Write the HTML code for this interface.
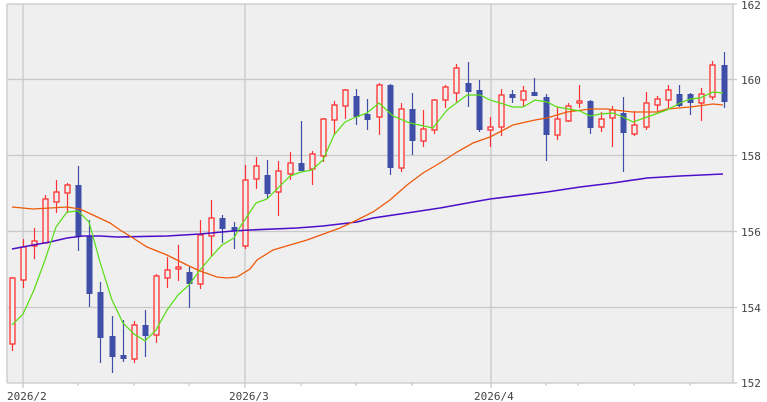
<!DOCTYPE html>
<html><head><meta charset="utf-8"><style>
html,body{margin:0;padding:0;background:#fff;}
svg{display:block;}
text{font-family:"DejaVu Sans Mono","Liberation Mono",monospace;font-size:11px;fill:#444;}
</style></head><body>
<svg id="s" width="767" height="402" xmlns="http://www.w3.org/2000/svg">
<rect x="7" y="4" width="726" height="379" fill="#efefef"/>
<g stroke="#c8c8c8" stroke-width="1.3" fill="none">
<line x1="7" y1="79.5" x2="737" y2="79.5"/>
<line x1="7" y1="155.5" x2="737" y2="155.5"/>
<line x1="7" y1="231.5" x2="737" y2="231.5"/>
<line x1="7" y1="307.5" x2="737" y2="307.5"/>
<line x1="7" y1="4" x2="737" y2="4"/>
<line x1="7" y1="383" x2="737" y2="383"/>
<line x1="7" y1="4" x2="7" y2="383"/>
<line x1="733" y1="4" x2="733" y2="383"/>
<line x1="23" y1="4" x2="23" y2="388"/>
<line x1="245" y1="4" x2="245" y2="388"/>
<line x1="491" y1="4" x2="491" y2="388"/>
<line x1="78" y1="383" x2="78" y2="386"/>
<line x1="134" y1="383" x2="134" y2="386"/>
<line x1="189" y1="383" x2="189" y2="386"/>
<line x1="301" y1="383" x2="301" y2="386"/>
<line x1="356" y1="383" x2="356" y2="386"/>
<line x1="412" y1="383" x2="412" y2="386"/>
<line x1="546" y1="383" x2="546" y2="386"/>
<line x1="578" y1="383" x2="578" y2="386"/>
<line x1="634" y1="383" x2="634" y2="386"/>
<line x1="690" y1="383" x2="690" y2="386"/>
</g>
<text x="741" y="9">162</text>
<text x="741" y="84">160</text>
<text x="741" y="160">158</text>
<text x="741" y="236">156</text>
<text x="741" y="312">154</text>
<text x="741" y="387">152</text>
<text x="7" y="400">2026/2</text>
<text x="229" y="400">2026/3</text>
<text x="474" y="400">2026/4</text>
<g id="c"></g>
<polyline fill="none" stroke="#4b0fc8" stroke-width="1.6" points="12,249 33,245 50,242 67,238 83,236 100,236 117,237 167,236 200,234 233,231 250,230 297,228 323,226 357,222 373,218 407,213 440,208 473,202 490,199 547,192 580,187 613,183 647,178 680,176 723,174"/>
<polyline fill="none" stroke="#ee5a0a" stroke-width="1.3" points="12,207 33,209 67,207 80,209 93,215 110,223 120,230 133,238 147,247 167,255 187,265 200,271 217,277 227,278 237,277 250,269 257,260 273,250 307,240 340,228 357,220 373,212 390,200 407,185 423,173 440,163 457,152 473,143 490,137 513,125 535,120 547,118 567,112 590,109 607,109 623,111 633,112 657,112 667,109 690,107 713,104 723,105"/>
<polyline fill="none" stroke="#55dd11" stroke-width="1.2" points="12,325 23,314 34,290 45,260 56,227 67,212 78,211 89,222 100,262 112,300 123,323 134,334 145,341 156,330 167,310 178,295 189,285 200,270 211,257 222,245 234,238 240,227 256,203 267,199 278,188 290,176 301,172 312,170 323,160 334,135 345,122 356,117 367,113 379,103 393,116 410,123 433,128 447,110 467,95 480,95 490,100 513,107 523,107 535,100 547,102 557,107 580,111 590,116 600,114 613,113 623,117 633,122 647,117 667,110 680,103 690,99 700,98 713,92 723,93"/>
</svg>
<script>
var d=[[12,344,278,277,351],[23,280,247,239,288],[34,246,241,228,259],[45,243,199,195,243],[56,202,192,180,213],[67,193,185,183,213],[78,185,237,166,251],[89,236,294,220,307],[100,292,338,282,363],[112,336,357,316,373],[123,355,359,320,362],[134,359,325,321,363],[145,325,336,310,357],[156,335,276,274,343],[167,278,270,257,288],[178,269,267,245,281],[189,272,284,267,308],[200,284,235,220,289],[211,236,218,200,256],[222,218,229,215,243],[234,227,231,222,249],[245,246,180,165,249],[256,179,166,157,189],[267,175,194,160,199],[278,192,171,161,216],[290,174,163,152,180],[301,163,171,121,171],[312,169,154,151,185],[323,156,119,118,162],[334,120,105,101,135],[345,106,90,89,119],[356,96,117,89,125],[367,114,120,99,130],[379,117,85,83,135],[390,85,168,84,175],[401,168,109,103,172],[412,109,141,93,155],[423,141,129,110,147],[434,130,100,99,134],[445,100,87,85,108],[456,93,68,64,102],[468,83,92,62,107],[479,90,130,80,132],[490,130,127,117,147],[501,127,95,89,136],[512,94,98,90,103],[523,100,91,86,107],[534,92,96,78,96],[546,97,135,94,161],[557,135,119,107,140],[568,121,106,103,122],[579,102,101,85,108],[590,101,128,100,134],[601,127,119,112,132],[612,118,110,106,147],[623,113,133,97,172],[634,134,125,111,136],[646,127,103,92,130],[657,105,99,96,111],[668,100,90,85,108],[679,94,106,85,107],[690,94,103,93,115],[701,103,94,88,121],[712,97,65,61,100],[724,65,102,52,108]];
var g=document.getElementById('c'),h='';
d.forEach(function(c){var x=c[0],o=c[1],cl=c[2],up=cl<o,t=Math.min(o,cl),b=Math.max(o,cl);if(b-t<2)b=t+2;
var col=up?'#ff3030':'#3f4fa8';
h+='<line x1="'+(x+.5)+'" y1="'+c[3]+'" x2="'+(x+.5)+'" y2="'+c[4]+'" stroke="'+col+'" stroke-width="1.2"/>';
if(up)h+='<rect x="'+(x-2)+'" y="'+t+'" width="5" height="'+(b-t)+'" fill="#efefef" stroke="'+col+'" stroke-width="1.3"/>';
else h+='<rect x="'+(x-2.5)+'" y="'+t+'" width="6" height="'+(b-t)+'" fill="'+col+'"/>';});
g.innerHTML=h;
</script>
</body></html>
